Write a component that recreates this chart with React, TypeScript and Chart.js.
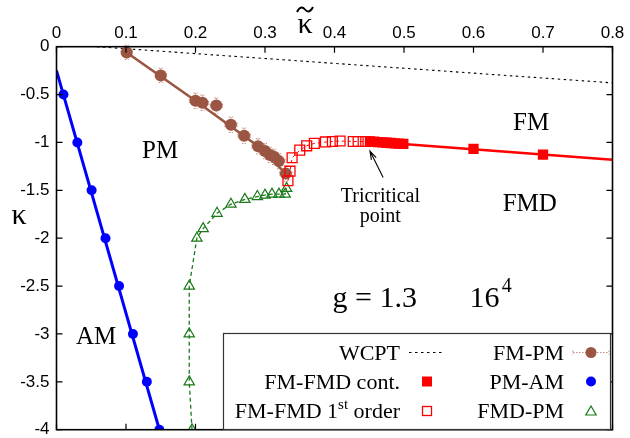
import { useEffect, useRef } from "react";
import { Chart, registerables } from "chart.js";

Chart.register(...registerables);

// ---------- data ----------
const xTickValues = [0, 0.1, 0.2, 0.3, 0.4, 0.5, 0.6, 0.7, 0.8];
const yTickValues = [0, -0.5, -1, -1.5, -2, -2.5, -3, -3.5, -4];

const wcptX = [0.058, 0.8];
const wcptY = [0, -0.378];

const fmPmX = [0.101, 0.15, 0.2, 0.21, 0.23, 0.251, 0.27, 0.29, 0.3, 0.307, 0.313, 0.32, 0.33];
const fmPmY = [-0.06, -0.3, -0.565, -0.585, -0.615, -0.815, -0.93, -1.04, -1.09, -1.13, -1.15, -1.195, -1.325];
const fmPmErrX = [0.008, 0.008, 0.009, 0.009, 0.009, 0.009, 0.009, 0.009, 0.009, 0.009, 0.009, 0.009, 0.009];
const fmPmErrY = [0.075, 0.075, 0.08, 0.08, 0.08, 0.08, 0.08, 0.08, 0.08, 0.08, 0.08, 0.08, 0.08];
const fmPmFitX = [0.101, 0.2, 0.29, 0.33];
const fmPmFitY = [-0.06, -0.565, -1.04, -1.325];

const pmAmX = [0.01, 0.03, 0.0505, 0.0705, 0.09, 0.11, 0.13, 0.148];
const pmAmY = [-0.5, -1, -1.5, -2, -2.5, -3, -3.5, -4];
const pmAmFitX = [0, 0.15];
const pmAmFitY = [-0.25, -4.05];

const fmdPmX = [0.195, 0.191, 0.191, 0.191, 0.202, 0.211, 0.231, 0.251, 0.271, 0.289, 0.3, 0.31, 0.32, 0.329, 0.331];
const fmdPmY = [-4.0, -3.5, -3.0, -2.5, -2.0, -1.9, -1.74, -1.645, -1.595, -1.565, -1.55, -1.54, -1.54, -1.54, -1.48];

const fmFmd1X = [0.333, 0.336, 0.339, 0.35, 0.36, 0.371, 0.387, 0.397, 0.408, 0.427, 0.434, 0.445];
const fmFmd1Y = [-1.4, -1.3, -1.16, -1.08, -1.035, -1.01, -0.995, -0.99, -0.985, -0.99, -0.99, -0.99];

const fmFmdContX = [0.451, 0.457, 0.463, 0.469, 0.475, 0.481, 0.487, 0.493, 0.499, 0.6, 0.7];
const fmFmdContY = [-0.99, -0.993, -0.996, -0.999, -1.003, -1.006, -1.009, -1.012, -1.015, -1.068, -1.127];
const fmFmdFitX = [0.451, 0.8];
const fmFmdFitY = [-0.99, -1.18];

const arrowFrom = { x: 0.47, y: -1.365 };
const arrowTo = { x: 0.451, y: -1.09 };

const legendLabels = ["WCPT", "FM-FMD cont.", "FM-FMD 1st order", "FM-PM", "PM-AM", "FMD-PM"];

// ---------- helpers ----------
const pts = (xs: number[], ys: number[]) => xs.map((x, i) => ({ x, y: ys[i] }));

const SERIF = '"Liberation Serif", "Times New Roman", serif';
const SANS = '"Liberation Sans", Arial, sans-serif';

const BROWN = "#9a5642";
const BLUE = "#0000ff";
const RED = "#ff0000";
const GREEN = "#1a7a1a";

function drawTriangle(ctx: CanvasRenderingContext2D, x: number, y: number, r: number) {
  ctx.beginPath();
  for (let k = 0; k < 3; k++) {
    const a = (k * 2 * Math.PI) / 3;
    const px = x + Math.sin(a) * r;
    const py = y - Math.cos(a) * r;
    if (k === 0) ctx.moveTo(px, py);
    else ctx.lineTo(px, py);
  }
  ctx.closePath();
}

const overlayPlugin = {
  id: "overlay",
  beforeDatasetsDraw(chart: any) {
    const { ctx, scales } = chart;
    const xs = scales.x;
    const ys = scales.y;
    ctx.save();
    ctx.strokeStyle = "#c8897a";
    ctx.lineWidth = 1;
    ctx.setLineDash([1.5, 1.5]);
    fmPmX.forEach((x, i) => {
      const px = xs.getPixelForValue(x);
      const py = ys.getPixelForValue(fmPmY[i]);
      const x0 = xs.getPixelForValue(x - fmPmErrX[i]);
      const x1 = xs.getPixelForValue(x + fmPmErrX[i]);
      const y0 = ys.getPixelForValue(fmPmY[i] + fmPmErrY[i]);
      const y1 = ys.getPixelForValue(fmPmY[i] - fmPmErrY[i]);
      ctx.beginPath();
      ctx.moveTo(x0, py); ctx.lineTo(x1, py);
      ctx.moveTo(px, y0); ctx.lineTo(px, y1);
      ctx.stroke();
      ctx.beginPath();
      ctx.moveTo(x0, py - 2); ctx.lineTo(x0, py + 2);
      ctx.moveTo(x1, py - 2); ctx.lineTo(x1, py + 2);
      ctx.moveTo(px - 2, y0); ctx.lineTo(px + 2, y0);
      ctx.moveTo(px - 2, y1); ctx.lineTo(px + 2, y1);
      ctx.stroke();
    });
    ctx.restore();
  },
  afterDraw(chart: any) {
    const { ctx, chartArea, scales } = chart;
    const xs = scales.x;
    const ys = scales.y;
    const { left, right, top, bottom } = chartArea;
    ctx.save();

    // frame
    ctx.strokeStyle = "#000";
    ctx.lineWidth = 1.6;
    ctx.setLineDash([]);
    ctx.strokeRect(left, top, right - left, bottom - top);
    // inward ticks, mirrored
    ctx.lineWidth = 1.2;
    ctx.beginPath();
    xTickValues.forEach((v) => {
      const px = xs.getPixelForValue(v);
      ctx.moveTo(px, top); ctx.lineTo(px, top + 6);
      ctx.moveTo(px, bottom); ctx.lineTo(px, bottom - 6);
    });
    yTickValues.forEach((v) => {
      const py = ys.getPixelForValue(v);
      ctx.moveTo(left, py); ctx.lineTo(left + 6, py);
      ctx.moveTo(right, py); ctx.lineTo(right - 6, py);
    });
    ctx.stroke();

    // axis titles
    ctx.fillStyle = "#000";
    ctx.font = `30px ${SERIF}`;
    ctx.textAlign = "center";
    ctx.textBaseline = "alphabetic";
    const kx = 305;
    ctx.fillText("κ", kx, 33);
    ctx.lineWidth = 1.9;
    ctx.beginPath();
    ctx.moveTo(kx - 8, 12);
    ctx.bezierCurveTo(kx - 5, 6, kx - 2, 7, kx, 9.5);
    ctx.bezierCurveTo(kx + 2, 12, kx + 5, 13, kx + 8, 7);
    ctx.stroke();
    ctx.fillText("κ", 19, 224);

    // region annotations
    const label = (t: string, x: number, y: number, size: number) => {
      ctx.font = `${size}px ${SERIF}`;
      ctx.fillText(t, xs.getPixelForValue(x), ys.getPixelForValue(y));
    };
    label("PM", 0.149, -1.16, 25);
    label("FM", 0.683, -0.87, 25);
    label("FMD", 0.681, -1.72, 25);
    label("AM", 0.057, -3.1, 25);
    label("g = 1.3", 0.458, -2.72, 30);
    label("16", 0.616, -2.72, 30);
    label("4", 0.648, -2.56, 20);
    label("Tricritical", 0.466, -1.62, 20);
    label("point", 0.466, -1.83, 20);

    // arrow
    const ax0 = xs.getPixelForValue(arrowFrom.x);
    const ay0 = ys.getPixelForValue(arrowFrom.y);
    const ax1 = xs.getPixelForValue(arrowTo.x);
    const ay1 = ys.getPixelForValue(arrowTo.y);
    ctx.lineWidth = 1.1;
    ctx.beginPath();
    ctx.moveTo(ax0, ay0); ctx.lineTo(ax1, ay1);
    const ang = Math.atan2(ay1 - ay0, ax1 - ax0);
    const hl = 9;
    ctx.moveTo(ax1 + Math.cos(ang + Math.PI - 0.3) * hl, ay1 + Math.sin(ang + Math.PI - 0.3) * hl);
    ctx.lineTo(ax1, ay1);
    ctx.lineTo(ax1 + Math.cos(ang + Math.PI + 0.3) * hl, ay1 + Math.sin(ang + Math.PI + 0.3) * hl);
    ctx.stroke();

    // legend box
    const bx0 = 223.5, by0 = 333.5, bx1 = 610.5, by1 = 429.5;
    ctx.fillStyle = "#fff";
    ctx.fillRect(bx0, by0, bx1 - bx0, by1 - by0);
    ctx.strokeStyle = "#333";
    ctx.lineWidth = 1.2;
    ctx.strokeRect(bx0, by0, bx1 - bx0, by1 - by0);

    const rows = [359.5, 388.5, 418];
    const col1Right = 400;
    const col2Right = 564;
    const s1 = 427;
    const s2 = 591;
    ctx.fillStyle = "#000";
    ctx.textAlign = "right";
    ctx.font = `22px ${SERIF}`;
    ctx.fillText(legendLabels[0], col1Right, rows[0]);
    ctx.fillText(legendLabels[1], col1Right, rows[1]);
    // "FM-FMD 1st order" with superscript
    {
      const parts = legendLabels[2].split(" ");
      const main1 = parts[0] + " 1";
      const sup = "st";
      const main2 = " " + parts[2];
      ctx.font = `22px ${SERIF}`;
      const w1 = ctx.measureText(main1).width;
      const w3 = ctx.measureText(main2).width;
      ctx.font = `15px ${SERIF}`;
      const w2 = ctx.measureText(sup).width;
      let x = col1Right - (w1 + w2 + w3);
      ctx.textAlign = "left";
      ctx.font = `22px ${SERIF}`;
      ctx.fillText(main1, x, rows[2]);
      x += w1;
      ctx.font = `15px ${SERIF}`;
      ctx.fillText(sup, x, rows[2] - 9);
      x += w2;
      ctx.font = `22px ${SERIF}`;
      ctx.fillText(main2, x, rows[2]);
      ctx.textAlign = "right";
    }
    ctx.fillText(legendLabels[3], col2Right, rows[0]);
    ctx.fillText(legendLabels[4], col2Right, rows[1]);
    ctx.fillText(legendLabels[5], col2Right, rows[2]);

    const cy = rows.map((r) => r - 7);
    // WCPT sample
    ctx.strokeStyle = "#000";
    ctx.lineWidth = 1.1;
    ctx.setLineDash([2.5, 3.5]);
    ctx.beginPath();
    ctx.moveTo(s1 - 18, cy[0]); ctx.lineTo(s1 + 18, cy[0]);
    ctx.stroke();
    ctx.setLineDash([]);
    // FM-FMD cont sample
    ctx.fillStyle = RED;
    ctx.fillRect(s1 - 5, cy[1] - 5, 10, 10);
    // 1st order sample
    ctx.strokeStyle = RED;
    ctx.lineWidth = 1.3;
    ctx.strokeRect(s1 - 4.5, cy[2] - 4.5, 9, 9);
    // FM-PM sample
    ctx.strokeStyle = "#c8897a";
    ctx.lineWidth = 1;
    ctx.setLineDash([1.5, 1.5]);
    ctx.beginPath();
    ctx.moveTo(s2 - 18, cy[0]); ctx.lineTo(s2 + 18, cy[0]);
    ctx.moveTo(s2 - 18, cy[0] - 2); ctx.lineTo(s2 - 18, cy[0] + 2);
    ctx.moveTo(s2 + 18, cy[0] - 2); ctx.lineTo(s2 + 18, cy[0] + 2);
    ctx.stroke();
    ctx.setLineDash([]);
    ctx.fillStyle = BROWN;
    ctx.beginPath();
    ctx.arc(s2, cy[0], 5.5, 0, Math.PI * 2);
    ctx.fill();
    // PM-AM sample
    ctx.fillStyle = BLUE;
    ctx.beginPath();
    ctx.arc(s2, cy[1], 5, 0, Math.PI * 2);
    ctx.fill();
    // FMD-PM sample
    ctx.strokeStyle = GREEN;
    ctx.lineWidth = 1.2;
    drawTriangle(ctx, s2, cy[2] + 1, 6);
    ctx.stroke();

    ctx.restore();
  },
};

export default function App() {
  const ref = useRef<HTMLCanvasElement | null>(null);

  useEffect(() => {
    if (!ref.current) return;
    const chart = new Chart(ref.current, {
      type: "scatter",
      data: {
        datasets: [
          {
            label: "FM-FMD cont.",
            data: pts(fmFmdContX, fmFmdContY),
            showLine: false,
            pointStyle: "rect",
            pointRadius: 7.3,
            backgroundColor: RED,
            borderColor: RED,
            borderWidth: 0,
          },
          {
            label: "FM-FMD 1st order",
            data: pts(fmFmd1X, fmFmd1Y),
            showLine: true,
            borderColor: RED,
            borderWidth: 1,
            borderDash: [3, 3],
            pointStyle: "rect",
            pointRadius: 7,
            pointBorderWidth: 1.3,
            pointBorderColor: RED,
            pointBackgroundColor: "rgba(0,0,0,0)",
            backgroundColor: "rgba(0,0,0,0)",
          },
          {
            label: "FM-FMD fit",
            data: pts(fmFmdFitX, fmFmdFitY),
            showLine: true,
            borderColor: RED,
            borderWidth: 2.6,
            pointRadius: 0,
          },
          {
            label: "FM-PM",
            data: pts(fmPmX, fmPmY),
            showLine: false,
            pointStyle: "circle",
            pointRadius: 6,
            backgroundColor: BROWN,
            borderColor: BROWN,
            borderWidth: 0,
          },
          {
            label: "FM-PM fit",
            data: pts(fmPmFitX, fmPmFitY),
            showLine: true,
            borderColor: BROWN,
            borderWidth: 2.6,
            pointRadius: 0,
          },
          {
            label: "FMD-PM",
            data: pts(fmdPmX, fmdPmY),
            showLine: true,
            borderColor: GREEN,
            borderWidth: 1.3,
            borderDash: [4, 3],
            pointStyle: "triangle",
            pointRadius: 6,
            pointBorderWidth: 1.2,
            pointBorderColor: GREEN,
            pointBackgroundColor: "rgba(0,0,0,0)",
            backgroundColor: "rgba(0,0,0,0)",
          },
          {
            label: "PM-AM",
            data: pts(pmAmX, pmAmY),
            showLine: false,
            pointStyle: "circle",
            pointRadius: 5,
            backgroundColor: BLUE,
            borderColor: BLUE,
            borderWidth: 0,
          },
          {
            label: "PM-AM fit",
            data: pts(pmAmFitX, pmAmFitY),
            showLine: true,
            borderColor: BLUE,
            borderWidth: 3,
            pointRadius: 0,
          },
          {
            label: "WCPT",
            data: pts(wcptX, wcptY),
            showLine: true,
            borderColor: "#000",
            borderWidth: 1.1,
            borderDash: [2.5, 3.5],
            pointRadius: 0,
          },
        ],
      },
      options: {
        animation: false,
        responsive: false,
        devicePixelRatio: 1,
        layout: { padding: { left: 0, top: 0, right: 17.5, bottom: 1 } },
        plugins: { legend: { display: false }, tooltip: { enabled: false } },
        scales: {
          x: {
            type: "linear",
            position: "top",
            min: 0,
            max: 0.8,
            afterBuildTicks: (s: any) => {
              s.ticks = xTickValues.map((v) => ({ value: v }));
            },
            afterFit: (s: any) => {
              s.height = 46.7;
              s.paddingLeft = 0;
              s.paddingRight = 0;
            },
            ticks: {
              color: "#000",
              font: { family: SANS, size: 17 },
              padding: 3,
              maxRotation: 0,
              autoSkip: false,
              callback: (v: any) => String(Math.round(Number(v) * 10) / 10),
            },
            grid: { display: false, drawTicks: false },
            border: { display: false },
          },
          y: {
            type: "linear",
            min: -4,
            max: 0,
            afterBuildTicks: (s: any) => {
              s.ticks = yTickValues.map((v) => ({ value: v }));
            },
            afterFit: (s: any) => {
              s.width = 56.5;
              s.paddingTop = 0;
              s.paddingBottom = 0;
            },
            ticks: {
              color: "#000",
              font: { family: SANS, size: 17 },
              padding: 7,
              autoSkip: false,
              callback: (v: any) => String(Math.round(Number(v) * 10) / 10),
            },
            grid: { display: false, drawTicks: false },
            border: { display: false },
          },
        },
      },
      plugins: [overlayPlugin],
    } as any);
    return () => chart.destroy();
  }, []);

  return (
    <div style={{ position: "absolute", left: 0, top: 0, width: 630, height: 438, background: "#fff" }}>
      <canvas ref={ref} width={630} height={438} style={{ width: 630, height: 438, display: "block" }} />
    </div>
  );
}
